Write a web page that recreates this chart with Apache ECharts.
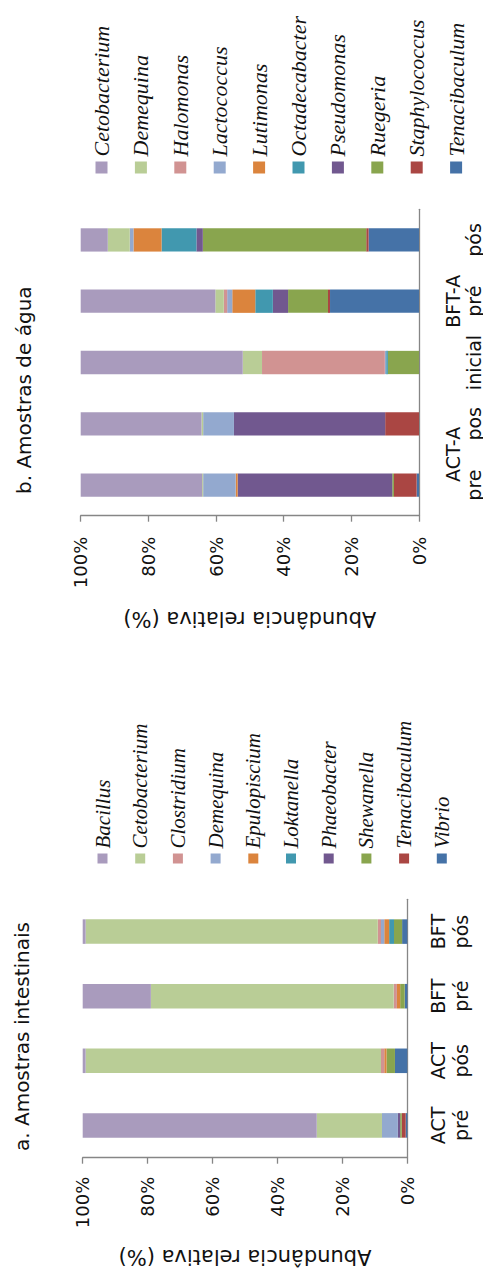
<!DOCTYPE html>
<html>
<head>
<meta charset="utf-8">
<title>Abundância relativa</title>
<script src="https://cdn.jsdelivr.net/npm/echarts@6/dist/echarts.min.js"></script>
<style>
  html, body { margin: 0; padding: 0; background: #fff; overflow: hidden; }
  body { width: 483px; height: 1275px; position: relative; }
  /* The figure is laid out landscape (1275 x 483) and turned a quarter turn counter-clockwise. */
  #frame {
    position: absolute; left: 0; top: 0; width: 1275px; height: 483px;
    transform-origin: 0 0; transform: translate(0, 1275px) rotate(-90deg);
  }
  #gut { position: absolute; left: 0; top: 0; width: 637px; height: 483px; }
  #water { position: absolute; left: 637px; top: 0; width: 638px; height: 483px; }
</style>
</head>
<body>
<div id="frame">
  <div id="gut"></div>
  <div id="water"></div>
</div>
<script>
// ---- a. intestinal samples (% relative abundance) ----
const gutSamples = ['ACT\npré', 'ACT\npós', 'BFT\npré', 'BFT\npós'];
const gutTaxa = ['Bacillus', 'Cetobacterium', 'Clostridium', 'Demequina', 'Epulopiscium',
                 'Loktanella', 'Phaeobacter', 'Shewanella', 'Tenacibaculum', 'Vibrio'];
const gutBacillus       = [72.1,  0.9, 21.0,  0.9];
const gutCetobacterium  = [20.1, 91.0, 74.8, 90.0];
const gutClostridium    = [ 0.0,  1.0,  1.0,  1.0];
const gutDemequina      = [ 4.9,  0.0,  0.0,  1.0];
const gutEpulopiscium   = [ 0.0,  0.7,  1.0,  1.5];
const gutLoktanella     = [ 0.0,  0.0,  0.0,  1.5];
const gutPhaeobacter    = [ 0.7,  0.0,  0.0,  0.0];
const gutShewanella     = [ 0.5,  2.6,  1.4,  2.5];
const gutTenacibaculum  = [ 1.2,  0.0,  0.0,  0.0];
const gutVibrio         = [ 0.5,  3.8,  0.8,  1.6];

// ---- b. water samples (% relative abundance) ----
const waterSamples = ['pre', 'pos', 'inicial', 'pré', 'pós'];
const waterGroups = ['', '', 'ACT-A', '', '', '', '', 'BFT-A', '', '', ''];
const waterTaxa = ['Cetobacterium', 'Demequina', 'Halomonas', 'Lactococcus', 'Lutimonas',
                   'Octadecabacter', 'Pseudomonas', 'Ruegeria', 'Staphylococcus', 'Tenacibaculum'];
const waterCetobacterium  = [35.9, 35.7, 47.9, 39.8,  8.0];
const waterDemequina      = [ 0.3,  0.5,  5.7,  2.5,  6.5];
const waterHalomonas      = [ 0.0,  0.0, 36.3,  1.0,  0.0];
const waterLactococcus    = [ 9.6,  9.1,  0.4,  1.5,  1.1];
const waterLutimonas      = [ 0.6,  0.0,  0.0,  6.8,  8.3];
const waterOctadecabacter = [ 0.0,  0.0,  0.5,  5.2, 10.3];
const waterPseudomonas    = [45.7, 44.7,  0.0,  4.5,  1.9];
const waterRuegeria       = [ 0.5,  0.0,  9.2, 11.8, 48.3];
const waterStaphylococcus = [ 6.7, 10.0,  0.0,  0.6,  0.7];
const waterTenacibaculum  = [ 0.7,  0.0,  0.0, 26.3, 14.9];

const valueTicks = [0, 20, 40, 60, 80, 100];

const palette = ['#A99BBD', '#B9CD96', '#D19392', '#93A9CF', '#DB843D',
                 '#4198AF', '#71588F', '#89A54E', '#AA4643', '#4572A7'];

const AXIS = '#868686';
const SANS = 'DejaVu Sans';

// Stack from the bottom up: the last taxon sits on 0 %, the first one reaches 100 %.
function stackSeries(taxa, values) {
  const out = [];
  for (let i = taxa.length - 1; i >= 0; i--) {
    out.push({
      name: taxa[i], type: 'bar', stack: 'total', barWidth: '38%',
      itemStyle: { color: palette[i] },
      data: values[i]
    });
  }
  return out;
}

function valueAxis(labelMargin, nameGap) {
  return {
    type: 'value', min: valueTicks[0], max: valueTicks[valueTicks.length - 1],
    interval: valueTicks[1] - valueTicks[0],
    name: 'Abundância relativa (%)', nameLocation: 'middle', nameGap: nameGap,
    nameTextStyle: { fontFamily: SANS, fontSize: 21, color: '#111' },
    axisLine: { show: true, lineStyle: { color: AXIS, width: 1.3 } },
    axisTick: { show: true, length: 6, lineStyle: { color: AXIS, width: 1.3 } },
    splitLine: { show: false },
    axisLabel: { formatter: '{value}%', fontFamily: SANS, fontSize: 18, color: '#111', margin: labelMargin }
  };
}

function legend(taxa, left, top, size, fontSize, step) {
  return {
    orient: 'vertical', left: left, top: top, padding: 0,
    icon: 'rect', itemWidth: size, itemHeight: size,
    itemGap: step - fontSize, selectedMode: false,
    data: taxa.slice(),
    textStyle: { fontFamily: 'Liberation Serif', fontStyle: 'italic', fontSize: fontSize,
                 lineHeight: fontSize, color: '#111' }
  };
}

// ---- chart a ----
const gut = echarts.init(document.getElementById('gut'), null, { renderer: 'svg', width: 637, height: 483 });
gut.setOption({
  animation: false,
  title: { text: 'a. Amostras intestinais', left: 124, top: 12, padding: 0,
           textStyle: { fontFamily: SANS, fontWeight: 'normal', fontSize: 20, color: '#111' } },
  legend: legend(gutTaxa, 411.5, 92, 10, 21, 37.7),
  grid: { left: 117.3, top: 82.7, width: 258.4, height: 324.6, containLabel: false },
  xAxis: {
    type: 'category', data: gutSamples,
    axisLine: { lineStyle: { color: AXIS, width: 1.3 } },
    axisTick: { length: 8, lineStyle: { color: AXIS, width: 1.3 } },
    axisLabel: { fontFamily: SANS, fontSize: 19, lineHeight: 23, color: '#111', margin: 19, interval: 0 }
  },
  yAxis: valueAxis(19, 89),
  series: stackSeries(gutTaxa, [gutBacillus, gutCetobacterium, gutClostridium, gutDemequina,
    gutEpulopiscium, gutLoktanella, gutPhaeobacter, gutShewanella, gutTenacibaculum, gutVibrio])
});

// ---- chart b ----
const water = echarts.init(document.getElementById('water'), null, { renderer: 'svg', width: 638, height: 483 });
water.setOption({
  animation: false,
  title: { text: 'b. Amostras de água', left: 144, top: 14, padding: 0,
           textStyle: { fontFamily: SANS, fontWeight: 'normal', fontSize: 20, color: '#111' } },
  legend: legend(waterTaxa, 464.5, 90.5, 12, 22, 39.4),
  grid: { left: 122.3, top: 80.7, width: 306.4, height: 339.3, containLabel: false },
  xAxis: [{
    type: 'category', data: waterSamples,
    axisLine: { lineStyle: { color: AXIS, width: 1.3 } },
    axisTick: { length: 8, lineStyle: { color: AXIS, width: 1.3 } },
    axisLabel: { fontFamily: SANS, fontSize: 19, color: '#111', margin: 45, interval: 0 }
  }, {
    type: 'category', data: waterGroups, position: 'bottom', boundaryGap: false,
    axisLine: { show: false }, axisTick: { show: false },
    axisLabel: { fontFamily: SANS, fontSize: 19, color: '#111', margin: 24, interval: 0 }
  }],
  yAxis: valueAxis(21, 93),
  series: stackSeries(waterTaxa, [waterCetobacterium, waterDemequina, waterHalomonas, waterLactococcus,
    waterLutimonas, waterOctadecabacter, waterPseudomonas, waterRuegeria, waterStaphylococcus, waterTenacibaculum])
});
</script>
</body>
</html>
